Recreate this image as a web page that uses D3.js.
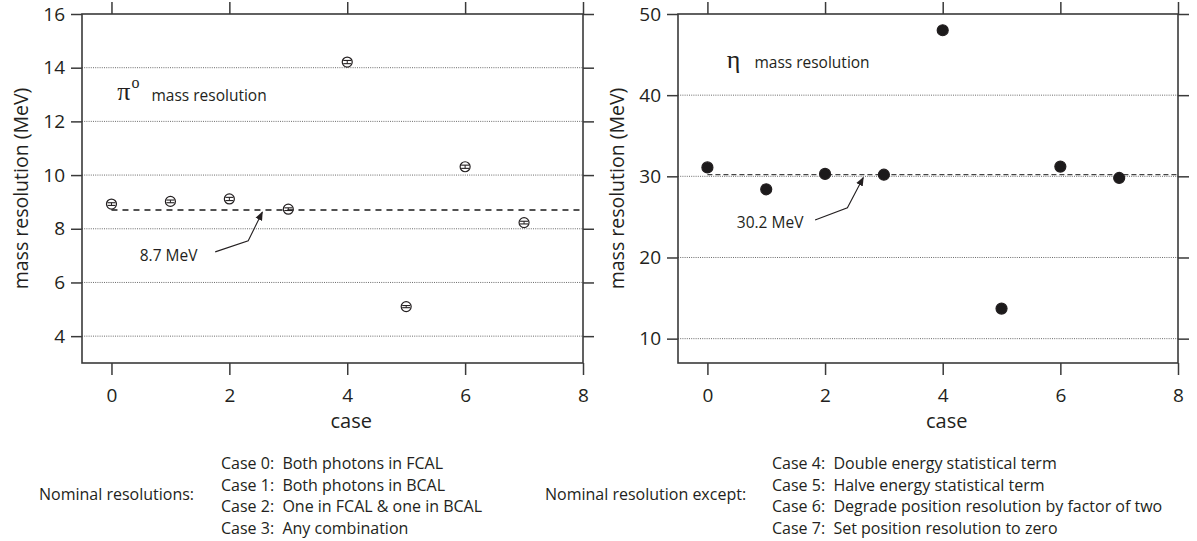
<!DOCTYPE html>
<html>
<head>
<meta charset="utf-8">
<script src="https://cdn.jsdelivr.net/npm/d3@7/dist/d3.min.js"></script>
<style>
  html, body { margin: 0; padding: 0; background: #fff; }
  svg { display: block; }
  text { font-family: "Open Sans", "Noto Sans", sans-serif; fill: #231f20; }
</style>
</head>
<body>
<svg id="chart" width="1197" height="541"></svg>
<script>
// ---- data -------------------------------------------------------------
const cases = [0, 1, 2, 3, 4, 5, 6, 7];
const pi0Res = [8.92, 9.02, 9.11, 8.73, 14.21, 5.10, 10.31, 8.23];
const pi0Err = [0.05, 0.05, 0.06, 0.05, 0.06, 0.04, 0.06, 0.05];
const etaRes = [31.1, 28.4, 30.3, 30.2, 48.0, 13.7, 31.2, 29.8];
const etaErr = [0.2, 0.2, 0.2, 0.2, 0.3, 0.1, 0.2, 0.2];
const pi0Nominal = 8.7;
const etaNominal = 30.2;

const xTicks = [0, 2, 4, 6, 8];
const pi0Ticks = [4, 6, 8, 10, 12, 14, 16];
const pi0Grid = [4, 6, 8, 10, 12, 14];
const etaTicks = [10, 20, 30, 40, 50];
const etaGrid = [10, 20, 30, 40];

const xLabel = "case";
const yLabel = "mass resolution (MeV)";
const pi0Label = "8.7 MeV";
const etaLabel = "30.2 MeV";

const nominalHeading = "Nominal resolutions:";
const nominalCases = [
  "Case 0:  Both photons in FCAL",
  "Case 1:  Both photons in BCAL",
  "Case 2:  One in FCAL & one in BCAL",
  "Case 3:  Any combination"
];
const variedHeading = "Nominal resolution except:";
const variedCases = [
  "Case 4:  Double energy statistical term",
  "Case 5:  Halve energy statistical term",
  "Case 6:  Degrade position resolution by factor of two",
  "Case 7:  Set position resolution to zero"
];

// ---- layout -----------------------------------------------------------
const svg = d3.select("#chart");
const ink = "#231f20";
const frameInk = "#3a3a3a";

svg.append("defs").append("marker")
  .attr("id", "arrowhead")
  .attr("viewBox", "0 0 10 10")
  .attr("refX", 9).attr("refY", 5)
  .attr("markerWidth", 9).attr("markerHeight", 9)
  .attr("markerUnits", "userSpaceOnUse")
  .attr("orient", "auto")
  .append("path")
  .attr("d", "M0,1 L10,5 L0,9 Z")
  .attr("fill", ink);

function panel(opt) {
  const { left, right, top, bottom } = opt.box;
  const x = d3.scaleLinear().domain([-0.5, 8]).range([left, right]);
  const y = d3.scaleLinear().domain(opt.yDomain).range([bottom, top]);
  const g = svg.append("g");

  // dotted horizontal grid
  g.append("g").selectAll("line").data(opt.grid).join("line")
    .attr("x1", left).attr("x2", right)
    .attr("y1", d => y(d)).attr("y2", d => y(d))
    .attr("stroke", "#5a5a5a").attr("stroke-width", 0.9)
    .attr("stroke-dasharray", "1,1.2");

  // axes: ticks point outward on all four sides
  const styleAxis = sel => {
    sel.select(".domain").remove();
    sel.selectAll(".tick line").attr("stroke", frameInk).attr("stroke-width", 1.5);
    sel.selectAll(".tick text")
      .attr("fill", ink).style("font-family", "'Open Sans', sans-serif")
      .style("font-size", "19px");
  };
  g.append("g").attr("transform", `translate(${left},0)`)
    .call(d3.axisLeft(y).tickValues(opt.ticks).tickFormat(d3.format("d"))
      .tickSize(11).tickPadding(6))
    .call(styleAxis);
  g.append("g").attr("transform", `translate(${right},0)`)
    .call(d3.axisRight(y).tickValues(opt.ticks).tickFormat("").tickSize(11))
    .call(styleAxis);
  g.append("g").attr("transform", `translate(0,${bottom})`)
    .call(d3.axisBottom(x).tickValues(xTicks).tickFormat(d3.format("d"))
      .tickSize(12).tickPadding(14))
    .call(styleAxis);
  g.append("g").attr("transform", `translate(0,${top})`)
    .call(d3.axisTop(x).tickValues(xTicks).tickFormat("").tickSize(12))
    .call(styleAxis);

  // frame
  g.append("rect")
    .attr("x", left).attr("y", top)
    .attr("width", right - left).attr("height", bottom - top)
    .attr("fill", "none").attr("stroke", frameInk).attr("stroke-width", 1.6);

  // axis titles
  g.append("text")
    .attr("x", x(4) + 4).attr("y", bottom + 65)
    .attr("text-anchor", "middle")
    .style("font-size", "20px")
    .text(xLabel);
  g.append("text")
    .attr("transform", `translate(${left - 61},${(top + bottom) / 2}) rotate(-90)`)
    .attr("text-anchor", "middle").attr("dy", "0.35em")
    .style("font-size", "19.5px")
    .text(yLabel);

  // nominal value, dashed
  g.append("line")
    .attr("x1", x(0)).attr("x2", x(8))
    .attr("y1", y(opt.nominal)).attr("y2", y(opt.nominal))
    .attr("stroke", opt.dashInk).attr("stroke-width", 1.3)
    .attr("stroke-dasharray", opt.dash);

  // annotation arrow and label
  const line = d3.line().x(d => x(d[0])).y(d => y(d[1]));
  g.append("path")
    .attr("d", line(opt.arrow))
    .attr("fill", "none").attr("stroke", ink).attr("stroke-width", 1.1)
    .attr("marker-end", "url(#arrowhead)");
  g.append("text")
    .attr("x", x(opt.labelAt[0])).attr("y", y(opt.labelAt[1]))
    .style("font-size", "15.5px")
    .text(opt.label);

  // panel title: particle symbol + caption
  const t = g.append("text")
    .attr("x", x(opt.titleAt[0])).attr("y", y(opt.titleAt[1]));
  t.append("tspan").style("font-family", "'Liberation Serif', serif")
    .style("font-size", "26px").text(opt.symbol);
  if (opt.sup) {
    t.append("tspan").style("font-family", "'Liberation Serif', serif")
      .style("font-size", "16px").attr("dx", 1).attr("dy", -12).text(opt.sup);
    t.append("tspan").attr("dy", 13).attr("dx", 12)
      .style("font-size", "15.5px").text("mass resolution");
  } else {
    t.append("tspan").attr("dx", 14)
      .style("font-size", "15.5px").text("mass resolution");
  }

  // data points with error bars
  const pts = g.append("g").selectAll("g").data(cases).join("g");
  pts.append("line")
    .attr("x1", i => x(i)).attr("x2", i => x(i))
    .attr("y1", i => y(opt.values[i] - opt.errs[i]))
    .attr("y2", i => y(opt.values[i] + opt.errs[i]))
    .attr("stroke", ink).attr("stroke-width", 1);
  pts.append("circle")
    .attr("cx", i => x(i)).attr("cy", i => y(opt.values[i]))
    .attr("r", opt.filled ? 5.5 : 5)
    .attr("fill", opt.filled ? "#1c1a1b" : "none")
    .attr("stroke", ink).attr("stroke-width", 1.2);
  if (!opt.filled) {
    [-1, 1].forEach(s => {
      pts.append("line")
        .attr("x1", i => x(i) - 4).attr("x2", i => x(i) + 4)
        .attr("y1", i => y(opt.values[i] + s * opt.errs[i]))
        .attr("y2", i => y(opt.values[i] + s * opt.errs[i]))
        .attr("stroke", ink).attr("stroke-width", 1.1);
    });
  }
}

panel({
  box: { left: 82, right: 583, top: 14, bottom: 363 },
  yDomain: [3, 16], ticks: pi0Ticks, grid: pi0Grid,
  values: pi0Res, errs: pi0Err, filled: false,
  nominal: pi0Nominal, dash: "6,5", dashInk: "#1a1a1a",
  arrow: [[1.76, 7.14], [2.32, 7.55], [2.56, 8.62]],
  label: pi0Label, labelAt: [0.48, 6.8],
  symbol: "π", sup: "o", titleAt: [0.1, 12.78]
});

panel({
  box: { left: 678, right: 1178, top: 14, bottom: 363 },
  yDomain: [7, 50], ticks: etaTicks, grid: etaGrid,
  values: etaRes, errs: etaErr, filled: true,
  nominal: etaNominal, dash: "5,3", dashInk: "#444",
  arrow: [[1.83, 24.62], [2.38, 26.13], [2.65, 29.85]],
  label: etaLabel, labelAt: [0.5, 23.63],
  symbol: "η", sup: null, titleAt: [0.33, 43.35]
});

// ---- case descriptions ------------------------------------------------
function notes(headX, listX, heading, lines) {
  const g = svg.append("g").style("font-size", "16px");
  g.append("text").attr("x", headX).attr("y", 500).text(heading);
  g.selectAll("text.case").data(lines).join("text")
    .attr("class", "case")
    .attr("x", listX)
    .attr("y", (d, i) => 469 + i * 21.7)
    .style("white-space", "pre")
    .attr("xml:space", "preserve")
    .text(d => d);
}
notes(39, 221, nominalHeading, nominalCases);
notes(545, 772, variedHeading, variedCases);
</script>
</body>
</html>
